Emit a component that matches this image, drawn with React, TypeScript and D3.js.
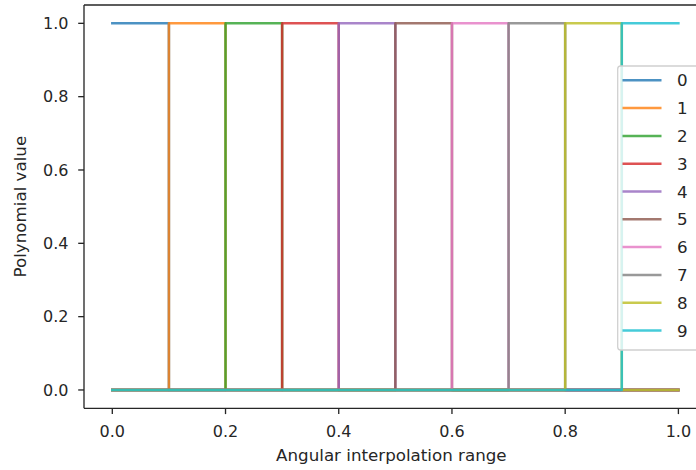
import React from "react";
import * as d3 from "d3";

const seriesNames = ["0", "1", "2", "3", "4", "5", "6", "7", "8", "9"];
const riseX = [0.0, 0.1, 0.2, 0.3, 0.4, 0.5, 0.6, 0.7, 0.8, 0.9];
const fallX = [0.1, 0.2, 0.3, 0.4, 0.5, 0.6, 0.7, 0.8, 0.9, 1.0];
const rangeStart = 0.0;
const rangeEnd = 1.0;
const xTicks = [0.0, 0.2, 0.4, 0.6, 0.8, 1.0];
const yTicks = [0.0, 0.2, 0.4, 0.6, 0.8, 1.0];
const colors = [
  "#1f77b4", "#ff7f0e", "#2ca02c", "#d62728", "#9467bd",
  "#8c564b", "#e377c2", "#7f7f7f", "#bcbd22", "#17becf",
];

const W = 696;
const H = 470;
const left = 84;
const right = 706.7;
const top = 5;
const bottom = 408.3;

export default function App() {
  const x = d3.scaleLinear().domain([-0.05, 1.05]).range([left, right]);
  const y = d3.scaleLinear().domain([-0.05, 1.05]).range([bottom, top]);
  const line = d3
    .line<[number, number]>()
    .x((d) => x(d[0]))
    .y((d) => y(d[1]));

  const series = seriesNames.map((name, i) => {
    const pts: [number, number][] = [];
    if (riseX[i] > rangeStart) {
      pts.push([rangeStart, 0], [riseX[i], 0]);
    }
    pts.push([riseX[i], 1], [fallX[i], 1]);
    if (fallX[i] < rangeEnd) {
      pts.push([fallX[i], 0], [rangeEnd, 0]);
    }
    return { name, pts, color: colors[i] };
  });

  const font = "DejaVu Sans, sans-serif";
  const textColor = "#262626";
  const legTop = 66;
  const legLeft = 617.7;
  const legRowH = 27.8;
  const legFirst = 80.3;

  return (
    <svg
      width={W}
      height={H}
      style={{ position: "absolute", left: 0, top: 0, background: "#fff" }}
      fontFamily={font}
    >
      <rect x={0} y={0} width={W} height={H} fill="#fff" />
      <g fill="none" strokeWidth={2.5} strokeLinejoin="round" strokeLinecap="square" strokeOpacity={0.8}>
        {series.map((s) => (
          <path key={s.name} d={line(s.pts) || ""} stroke={s.color} />
        ))}
      </g>
      {/* spines */}
      <g stroke={textColor} strokeWidth={1.33} fill="none">
        <line x1={left} x2={left} y1={top} y2={bottom} />
        <line x1={left} x2={right} y1={bottom} y2={bottom} />
        <line x1={left} x2={right} y1={top} y2={top} />
        <line x1={right} x2={right} y1={top} y2={bottom} />
      </g>
      {/* x ticks */}
      <g>
        {xTicks.map((t) => (
          <g key={"x" + t}>
            <line x1={x(t)} x2={x(t)} y1={bottom} y2={bottom + 5.8} stroke={textColor} strokeWidth={1.33} />
            <text x={x(t)} y={bottom + 28.3} textAnchor="middle" fontSize={16} fill={textColor}>
              {t.toFixed(1)}
            </text>
          </g>
        ))}
      </g>
      {/* y ticks */}
      <g>
        {yTicks.map((t) => (
          <g key={"y" + t}>
            <line x1={left - 5.8} x2={left} y1={y(t)} y2={y(t)} stroke={textColor} strokeWidth={1.33} />
            <text x={left - 15.5} y={y(t) + 5.8} textAnchor="end" fontSize={16} fill={textColor}>
              {t.toFixed(1)}
            </text>
          </g>
        ))}
      </g>
      <text x={(left + 706.7) / 2 - 4} y={460.5} textAnchor="middle" fontSize={16.7} fill={textColor}>
        Angular interpolation range
      </text>
      <text
        transform={`translate(26, ${(top + bottom) / 2}) rotate(-90)`}
        textAnchor="middle"
        fontSize={16.7}
        fill={textColor}
      >
        Polynomial value
      </text>
      {/* legend */}
      <rect
        x={legLeft}
        y={legTop}
        width={100}
        height={284}
        rx={3}
        fill="#fff"
        fillOpacity={0.8}
        stroke="#d0d0d0"
        strokeWidth={1.3}
      />
      {series.map((s, i) => (
        <g key={"leg" + s.name}>
          <line
            x1={622.5}
            x2={661.5}
            y1={legFirst + i * legRowH}
            y2={legFirst + i * legRowH}
            stroke={s.color}
            strokeOpacity={0.8}
            strokeWidth={2.5}
          />
          <text x={677} y={legFirst + i * legRowH + 6} fontSize={16.7} fill={textColor}>
            {s.name}
          </text>
        </g>
      ))}
    </svg>
  );
}
